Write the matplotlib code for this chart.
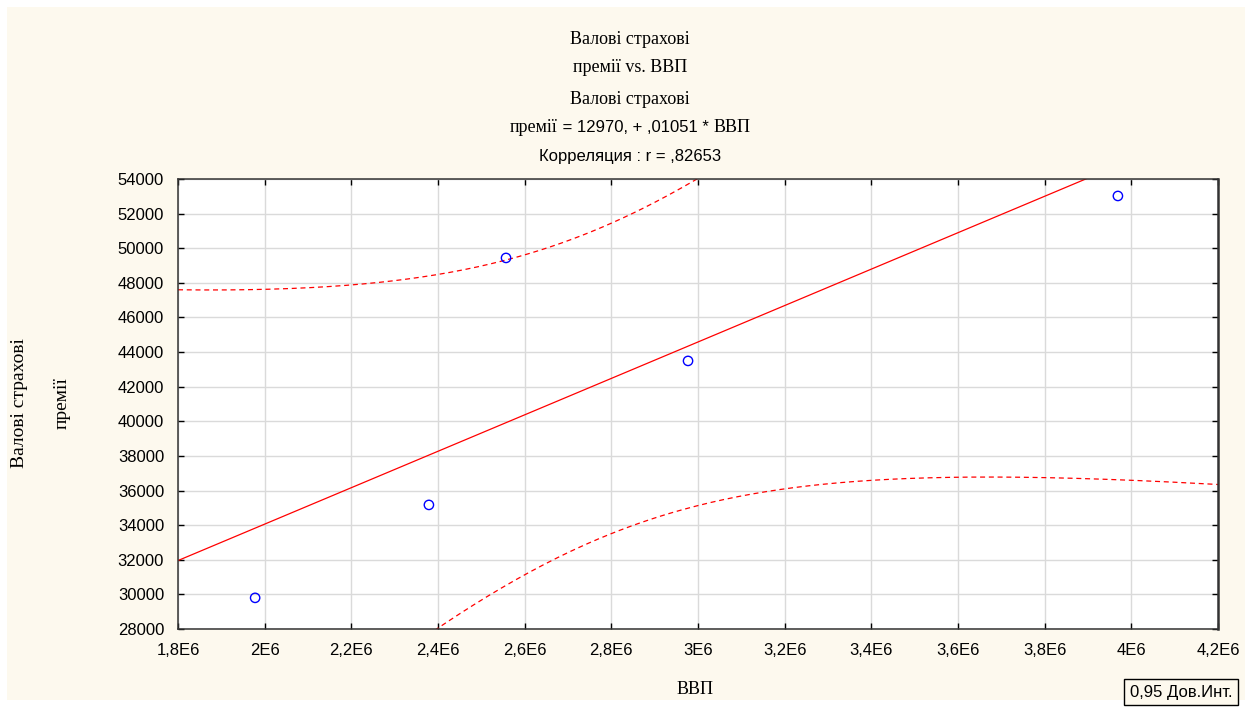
import numpy as np
import matplotlib
matplotlib.use("Agg")
import matplotlib.pyplot as plt
from matplotlib.patches import Rectangle

# data
gdp = np.array([1.978e6, 2.379e6, 2.557e6, 2.977e6, 3.969e6])
premiums = np.array([29800, 35170, 49440, 43490, 53020])

x_ticks = [1.8e6, 2.0e6, 2.2e6, 2.4e6, 2.6e6, 2.8e6, 3.0e6, 3.2e6, 3.4e6, 3.6e6, 3.8e6, 4.0e6, 4.2e6]
x_tick_labels = ["1,8E6", "2E6", "2,2E6", "2,4E6", "2,6E6", "2,8E6", "3E6",
                 "3,2E6", "3,4E6", "3,6E6", "3,8E6", "4E6", "4,2E6"]
y_ticks = [28000, 30000, 32000, 34000, 36000, 38000, 40000, 42000, 44000,
           46000, 48000, 50000, 52000, 54000]

T_CRIT = 3.182  # t(0.975, df=3)

SERIF = "Liberation Serif"
SANS = "Liberation Sans"
BG = "#fdf9ee"

# regression + 95% confidence band for the mean
slope, intercept = np.polyfit(gdp, premiums, 1)
n = len(gdp)
resid = premiums - (intercept + slope * gdp)
s = np.sqrt((resid ** 2).sum() / (n - 2))
sxx = ((gdp - gdp.mean()) ** 2).sum()
xs = np.linspace(1.8e6, 4.2e6, 300)
fit = intercept + slope * xs
half = T_CRIT * s * np.sqrt(1 / n + (xs - gdp.mean()) ** 2 / sxx)

fig = plt.figure(figsize=(12.52, 7.07), dpi=100)
fig.patch.set_facecolor("white")
fig.patches.append(Rectangle((7 / 1252, 7 / 707), 1238 / 1252, 693 / 707,
                             transform=fig.transFigure, facecolor=BG,
                             edgecolor="none", zorder=-10))

ax = fig.add_axes([178 / 1252, 1 - 629 / 707, 1040 / 1252, 450 / 707])
ax.set_facecolor("white")

ax.plot(xs, fit, color="red", lw=0.9)
ax.plot(xs, fit + half, color="red", lw=0.9, ls=(0, (4, 3)))
ax.plot(xs, fit - half, color="red", lw=0.9, ls=(0, (4, 3)))
ax.scatter(gdp, premiums, s=45, facecolors="none", edgecolors="blue", linewidths=1.0, zorder=5)

ax.set_xlim(1.8e6, 4.2e6)
ax.set_ylim(28000, 54000)
ax.set_xticks(x_ticks)
ax.set_xticklabels(x_tick_labels, family=SANS, fontsize=12)
ax.set_yticks(y_ticks)
ax.set_yticklabels([str(v) for v in y_ticks], family=SANS, fontsize=12)
ax.tick_params(direction="in", length=4, width=1, top=True, right=True,
               labeltop=False, labelright=False, pad=10, colors="black")
ax.grid(True, color="#dadada", lw=1)
ax.set_axisbelow(True)
for side in ax.spines.values():
    side.set_color("#333333")
    side.set_linewidth(1.1)
ax.spines["right"].set_linewidth(1.8)

# title block
def fy(py):
    return 1 - py / 707

fig.text(630 / 1252, fy(39), "Валові страхові", family=SERIF, fontsize=13, ha="center", va="center")
fig.text(630 / 1252, fy(67), "премії vs. ВВП", family=SERIF, fontsize=13, ha="center", va="center")
fig.text(630 / 1252, fy(100), "Валові страхові", family=SERIF, fontsize=13, ha="center", va="center")
fig.text(630 / 1252, fy(157), "Корреляция : r = ,82653", family=SANS, fontsize=12, ha="center", va="center")

# mixed serif / sans line with the equation
pieces = [("премії", SERIF, 13), (" = 12970, + ,01051 * ", SANS, 12), ("ВВП", SERIF, 13)]
renderer = fig.canvas.get_renderer()
texts = [fig.text(0, fy(127), t, family=f, fontsize=fs, ha="left", va="center") for t, f, fs in pieces]
widths = [t.get_window_extent(renderer).width for t in texts]
x0 = 630 - sum(widths) / 2
for t, w in zip(texts, widths):
    t.set_x(x0 / 1252)
    x0 += w

# axis labels
fig.text(20 / 1252, fy(403), "Валові страхові", family=SERIF, fontsize=14, rotation=90, ha="center", va="center")
fig.text(62 / 1252, fy(403), "премії", family=SERIF, fontsize=14, rotation=90, ha="center", va="center")
fig.text(695 / 1252, fy(689), "ВВП", family=SERIF, fontsize=13, ha="center", va="center")

# legend box
fig.text(1181 / 1252, fy(692), "0,95 Дов.Инт.", family=SANS, fontsize=12, ha="center", va="center",
         bbox=dict(boxstyle="square,pad=0.35", facecolor=BG, edgecolor="black", lw=1))

fig.savefig("out.png", dpi=100, facecolor=fig.get_facecolor())
